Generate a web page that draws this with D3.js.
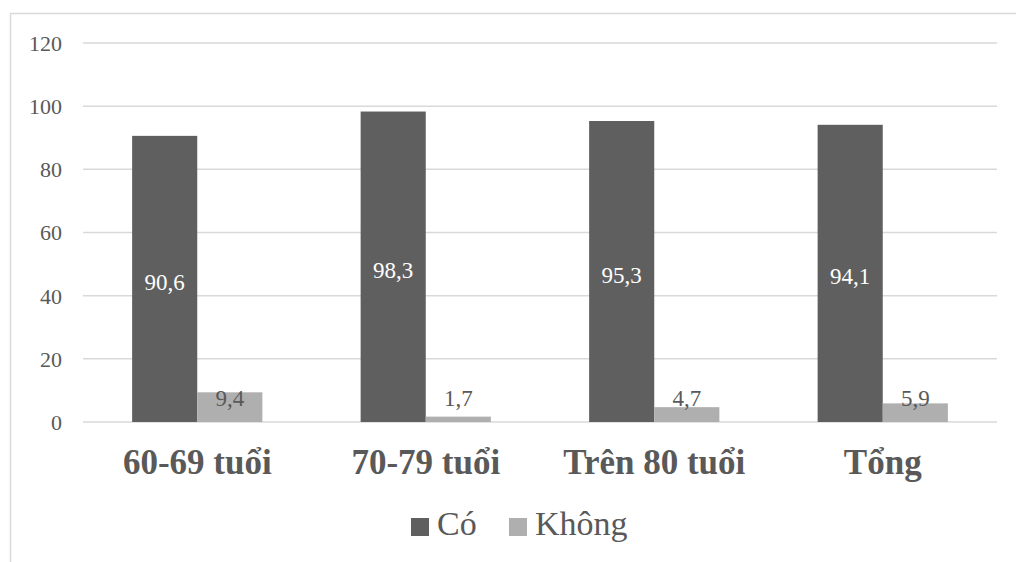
<!DOCTYPE html>
<html>
<head>
<meta charset="utf-8">
<script src="https://cdn.jsdelivr.net/npm/d3@7/dist/d3.min.js"></script>
<style>
  html, body { margin: 0; padding: 0; background: #fff; }
  svg { display: block; }
</style>
</head>
<body>
<svg id="chart" width="1016" height="562"></svg>
<script>
// Age groups and answer shares (%)
const categories = ["60-69 tuổi", "70-79 tuổi", "Trên 80 tuổi", "Tổng"];
const seriesNames = ["Có", "Không"];
const coValues = [90.6, 98.3, 95.3, 94.1];
const khongValues = [9.4, 1.7, 4.7, 5.9];
const yTicks = [0, 20, 40, 60, 80, 100, 120];

const colors = { "Có": "#5f5f5f", "Không": "#afafaf" };
const FONT = "'Liberation Serif', 'Times New Roman', serif";
const TEXT = "#595959";
const fmt = v => String(v).replace(".", ",");

const svg = d3.select("#chart");
const plot = { left: 83, right: 997, top: 43, bottom: 422 };

// outer frame of the chart area
svg.append("rect")
  .attr("x", 10.5).attr("y", 13.5)
  .attr("width", 1100).attr("height", 700)
  .attr("fill", "none").attr("stroke", "#d9d9d9").attr("stroke-width", 1.5);

const x = d3.scaleBand()
  .domain(categories)
  .range([plot.left, plot.right])
  .padding(0);

const y = d3.scaleLinear()
  .domain([0, 120])
  .range([plot.bottom, plot.top]);

// horizontal gridlines
svg.append("g")
  .selectAll("line")
  .data(yTicks)
  .join("line")
  .attr("x1", plot.left).attr("x2", plot.right)
  .attr("y1", d => y(d)).attr("y2", d => y(d))
  .attr("stroke", "#d9d9d9").attr("stroke-width", 1.5);

// y axis labels
const yAxis = d3.axisLeft(y).tickValues(yTicks).tickSize(0).tickPadding(0);
const gy = svg.append("g").attr("transform", "translate(62,0)").call(yAxis);
gy.select(".domain").remove();
gy.attr("font-family", null).attr("font-size", null);
gy.selectAll("text")
  .style("font-family", FONT)
  .style("font-size", "22px")
  .style("fill", TEXT)
  .attr("dy", "0.34em");

const barW = x.bandwidth() * 0.285;
const rows = categories.map((c, i) => ({ cat: c, co: coValues[i], khong: khongValues[i] }));

const groups = svg.append("g")
  .selectAll("g")
  .data(rows)
  .join("g")
  .attr("transform", d => `translate(${x(d.cat) + x.bandwidth() / 2},0)`);

// "Có" bars with value centred inside
groups.append("rect")
  .attr("x", -barW).attr("width", barW)
  .attr("y", d => y(d.co)).attr("height", d => y(0) - y(d.co))
  .attr("fill", colors["Có"]);

groups.append("text")
  .attr("x", -barW / 2)
  .attr("y", d => (y(d.co) + y(0)) / 2 + 3)
  .attr("dy", "0.35em")
  .attr("text-anchor", "middle")
  .style("font-family", FONT)
  .style("font-size", "23px")
  .style("fill", "#ffffff")
  .text(d => fmt(d.co));

// "Không" bars with value above the base line
groups.append("rect")
  .attr("x", 0).attr("width", barW)
  .attr("y", d => y(d.khong)).attr("height", d => y(0) - y(d.khong))
  .attr("fill", colors["Không"]);

groups.append("text")
  .attr("x", barW / 2)
  .attr("y", y(0) - 16)
  .attr("text-anchor", "middle")
  .style("font-family", FONT)
  .style("font-size", "23px")
  .style("fill", TEXT)
  .text(d => fmt(d.khong));

// category labels
svg.append("g")
  .selectAll("text")
  .data(categories)
  .join("text")
  .attr("x", d => x(d) + x.bandwidth() / 2)
  .attr("y", 474)
  .attr("text-anchor", "middle")
  .style("font-family", FONT)
  .style("font-size", "35px")
  .style("font-weight", "bold")
  .style("fill", TEXT)
  .text(d => d);

// legend
const legendX = [411, 509];
const legend = svg.append("g")
  .selectAll("g")
  .data(seriesNames)
  .join("g")
  .attr("transform", (d, i) => `translate(${legendX[i]},518)`);

legend.append("rect")
  .attr("width", 18).attr("height", 18)
  .attr("fill", d => colors[d]);

legend.append("text")
  .attr("x", 26).attr("y", 17)
  .style("font-family", FONT)
  .style("font-size", "34px")
  .style("fill", TEXT)
  .text(d => d);
</script>
</body>
</html>
